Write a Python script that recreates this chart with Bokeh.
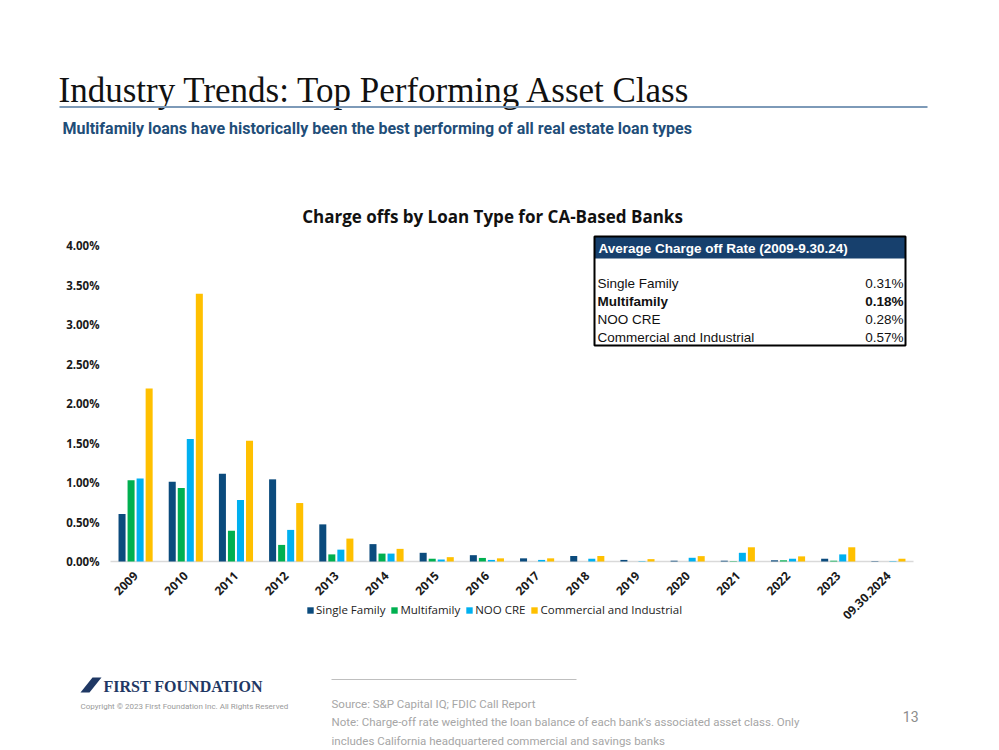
import math
from bokeh.plotting import figure
from bokeh.models import (ColumnDataSource, Range1d, FixedTicker, PrintfTickFormatter,
                          Legend, LegendItem)
from bokeh.transform import dodge
from bokeh.embed import file_html
from bokeh.resources import INLINE
from bokeh.core.properties import value

# ---------------- data ----------------
years = ["2009", "2010", "2011", "2012", "2013", "2014", "2015", "2016",
         "2017", "2018", "2019", "2020", "2021", "2022", "2023", "09.30.2024"]
single_family = [0.60, 1.01, 1.11, 1.04, 0.47, 0.22, 0.11, 0.08,
                 0.04, 0.07, 0.02, 0.01, 0.01, 0.015, 0.035, 0.005]
multifamily = [1.03, 0.93, 0.39, 0.21, 0.09, 0.10, 0.035, 0.045,
               0.0, 0.0, 0.0, 0.0, 0.005, 0.015, 0.01, 0.0]
noo_cre = [1.05, 1.55, 0.78, 0.40, 0.15, 0.10, 0.025, 0.02,
           0.02, 0.035, 0.005, 0.047, 0.11, 0.035, 0.09, 0.005]
commercial_industrial = [2.19, 3.39, 1.53, 0.74, 0.29, 0.16, 0.055, 0.04,
                         0.04, 0.07, 0.03, 0.068, 0.18, 0.065, 0.18, 0.035]
series_names = ["Single Family", "Multifamily", "NOO CRE", "Commercial and Industrial"]
y_ticks = [0.0, 0.5, 1.0, 1.5, 2.0, 2.5, 3.0, 3.5, 4.0]

table_title = "Average Charge off Rate (2009-9.30.24)"
table_labels = ["Single Family", "Multifamily", "NOO CRE", "Commercial and Industrial"]
table_values = [0.31, 0.18, 0.28, 0.57]

page_title = "Industry Trends: Top Performing Asset Class"
page_subtitle = "Multifamily loans have historically been the best performing of all real estate loan types"
chart_title = "Charge offs by Loan Type for CA-Based Banks"
logo_text = "FIRST FOUNDATION"
copyright_text = "Copyright \u00a9 2023 First Foundation Inc. All Rights Reserved"
source_lines = ["Source: S&P Capital IQ; FDIC Call Report",
                "Note: Charge-off rate weighted the loan balance of each bank\u2019s associated asset class.  Only",
                "includes California headquartered commercial and savings banks"]
page_number = "13"

# ---------------- layout (canvas pixel coordinates) ----------------
W, H = 995, 748
PL, PR, PB = 110, 913, 561        # bar area left/right and the 0% baseline
PX_PER_PCT = 79.0                 # vertical pixels per 1 %
colors = ["#0b4b7d", "#00b050", "#00b0f0", "#ffc000"]
SANS = "Open Sans"

n = len(years)
idx = list(range(n))
u = n / (PR - PL)                 # category units per pixel
x_range = Range1d(-PL * u, n + (W - PR) * u)
y_range = Range1d(-(H - PB) / PX_PER_PCT, PB / PX_PER_PCT)

src = ColumnDataSource(dict(i=idx, sf=single_family, mf=multifamily,
                            noo=noo_cre, ci=commercial_industrial))

p = figure(width=W, height=H, x_range=x_range, y_range=y_range,
           output_backend="svg", toolbar_location=None, min_border=0,
           outline_line_color=None)
p.extra_x_ranges = {"px": Range1d(0, W)}
p.extra_y_ranges = {"px": Range1d(H, 0)}
p.grid.visible = False
p.background_fill_color = "white"
p.border_fill_color = "white"

# baseline (category axis line)
p.segment(x0=[PL], y0=[PB], x1=[PR], y1=[PB], line_color="#d9d9d9", line_width=1.5,
          x_range_name="px", y_range_name="px")

renderers = []
offsets = [-0.27, -0.09, 0.09, 0.27]
for col, off, c in zip(["sf", "mf", "noo", "ci"], offsets, colors):
    r = p.vbar(x=dodge("i", 0.5 + off), top=col, width=0.14,
               source=src, fill_color=c, line_color=None)
    renderers.append(r)

# y axis: labels drawn inside the canvas to the left of the bars
p.yaxis.ticker = FixedTicker(ticks=y_ticks)
p.yaxis.formatter = PrintfTickFormatter(format="%.2f%%")
p.yaxis.axis_line_color = None
p.yaxis.major_tick_line_color = None
p.yaxis.minor_tick_line_color = None
p.yaxis.major_tick_out = 0
p.yaxis.major_tick_in = 0
p.yaxis.minor_tick_out = 0
p.yaxis.major_label_text_font = SANS
p.yaxis.major_label_text_font_size = "11.5px"
p.yaxis.major_label_text_font_style = "bold"
p.yaxis.major_label_text_color = "#1a1a1a"
p.yaxis.major_label_standoff = -99

# x axis: category labels hanging under the baseline
p.xaxis.ticker = FixedTicker(ticks=[i + 0.5 for i in idx])
p.xaxis.major_label_overrides = {i + 0.5: y for i, y in zip(idx, years)}
p.xaxis.axis_line_color = None
p.xaxis.major_tick_line_color = None
p.xaxis.minor_tick_line_color = None
p.xaxis.major_tick_out = 0
p.xaxis.major_tick_in = 0
p.xaxis.minor_tick_out = 0
p.xaxis.major_label_orientation = math.pi / 4
p.xaxis.major_label_text_font = SANS
p.xaxis.major_label_text_font_size = "12px"
p.xaxis.major_label_text_font_style = "bold"
p.xaxis.major_label_text_color = "#1a1a1a"
p.xaxis.major_label_standoff = -(H - PB - 12)

legend = Legend(items=[LegendItem(label=nm, renderers=[r]) for nm, r in zip(series_names, renderers)],
                orientation="horizontal", location=(306, H - 617), padding=0, margin=0,
                spacing=5, glyph_width=8, glyph_height=8, label_standoff=2,
                label_height=12, label_text_font=SANS, label_text_font_size="11.5px",
                label_text_color="#222222", border_line_color=None,
                background_fill_alpha=0)
p.add_layout(legend)

# ---------------- table ----------------
TX0, TX1, TY0, TY1 = 594, 905, 236, 345
p.quad(left=[TX0], right=[TX1], top=[TY0], bottom=[TY1], fill_color="white",
       line_color=None, x_range_name="px", y_range_name="px")
p.quad(left=[TX0], right=[TX1], top=[TY0], bottom=[258], fill_color="#17406d",
       line_color=None, x_range_name="px", y_range_name="px")
p.quad(left=[TX0], right=[TX1], top=[TY0], bottom=[TY1], fill_color=None,
       line_color="#000000", line_width=2, x_range_name="px", y_range_name="px")
p.text(x=[598], y=[247.5], text=[table_title], text_font=value("Liberation Sans"),
       text_font_size="13.5px", text_font_style="bold", text_color="white",
       text_baseline="middle", x_range_name="px", y_range_name="px")
row_y = [283, 301, 319, 337]
row_style = ["normal", "bold", "normal", "normal"]
tbl = ColumnDataSource(dict(y=row_y, lab=table_labels,
                            val=["%.2f%%" % v for v in table_values], st=row_style))
p.text(x=597, y="y", text="lab", source=tbl, text_font=value("Liberation Sans"),
       text_font_size="13.5px", text_font_style="st", text_color="#111111",
       text_baseline="middle", x_range_name="px", y_range_name="px")
p.text(x=903, y="y", text="val", source=tbl, text_font=value("Liberation Sans"),
       text_font_size="13.5px", text_font_style="st", text_color="#111111",
       text_baseline="middle", text_align="right", x_range_name="px", y_range_name="px")


# ---------------- page texts ----------------
def txt(x, y, text, font, size, color, style="normal", align="left", baseline="middle"):
    p.text(x=[x], y=[y], text=[text], text_font=value(font), text_font_size=size,
           text_font_style=style, text_color=color, text_align=align,
           text_baseline=baseline, x_range_name="px", y_range_name="px")


txt(58, 90, page_title, "Liberation Serif", "35px", "#111111")
p.segment(x0=[59], y0=[106.5], x1=[927], y1=[106.5], line_color="#7d9ab8", line_width=2,
          x_range_name="px", y_range_name="px")
txt(62, 128, page_subtitle, "Roboto", "16px", "#1f4e79", style="bold")
txt(492, 216, chart_title, SANS, "17px", "#111111", style="bold", align="center")

p.patch(x=[80, 92, 101, 89], y=[692, 677, 677, 692], fill_color="#1f3864", line_color=None,
        x_range_name="px", y_range_name="px")
txt(103, 686, logo_text, "Liberation Serif", "16px", "#1f3864", style="bold")
txt(80, 706, copyright_text, "Roboto", "8px", "#9a9a9a")
p.segment(x0=[331], y0=[679], x1=[576], y1=[679], line_color="#bfbfbf", line_width=1,
          x_range_name="px", y_range_name="px")
for yy, t in zip([703, 721, 740], source_lines):
    txt(331, yy, t, "Roboto", "11.5px", "#a6a6a6")
txt(918, 716, page_number, "Roboto", "14px", "#8c8c8c", align="right")

open("out.html", "w").write(file_html(p, INLINE))
